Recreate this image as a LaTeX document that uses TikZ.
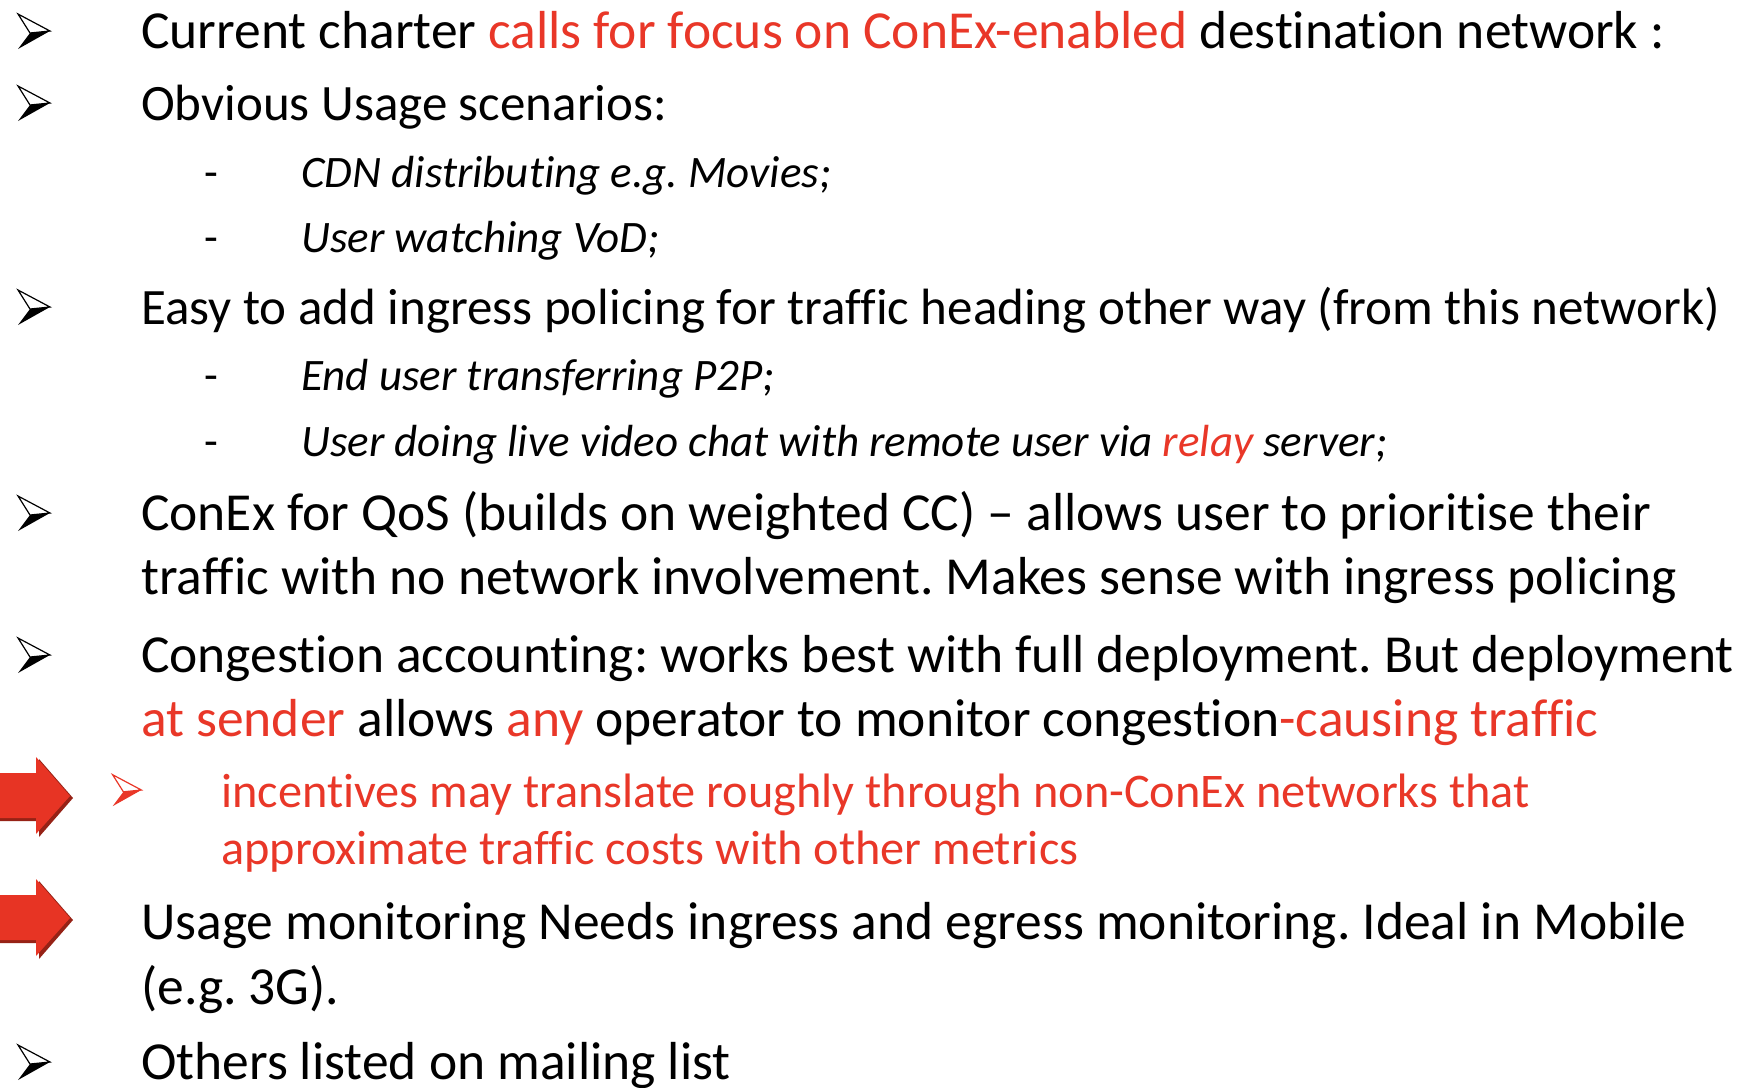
\documentclass[tikz,border=0pt]{standalone}
\usepackage{fontspec}
\setmainfont{Carlito}[Ligatures=NoCommon]
\frenchspacing
\definecolor{txtred}{RGB}{233,55,40}
\definecolor{arrred}{RGB}{231,52,36}
\definecolor{arrshadow}{RGB}{150,34,22}
\newcommand{\mainsz}{\fontsize{53.5}{64}\selectfont}
\newcommand{\midsz}{\fontsize{51}{61}\selectfont}
\newcommand{\subsz}{\fontsize{45}{54}\selectfont}
\newcommand{\redsz}{\fontsize{48.3}{58}\selectfont}
\newcommand{\rd}[1]{\textcolor{txtred}{#1}}
\newcommand{\blkbul}[3]{%
  \begin{scope}[shift={(#1,#2)}]
    \fill[#3] (-4,2) -- (16,0) -- (-16,18) -- cycle;
    \filldraw[fill=white,draw=#3,line width=1.2pt,line join=miter] (-16,-17) -- (16,0) -- (-4,2) -- cycle;
  \end{scope}}
\newcommand{\bigarrow}[2]{%
  \begin{scope}[shift={(#1,#2)}]
    \fill[arrshadow] (-2,-21) -- (39,-21) -- (39,-37) -- (73,2) -- (39,41) -- (39,25) -- (-2,25) -- cycle;
    \fill[arrred] (-2,-23) -- (36,-23) -- (36,-39) -- (70,0) -- (36,38) -- (36,22) -- (-2,22) -- cycle;
  \end{scope}}
\begin{document}
\begin{tikzpicture}[x=1pt,y=-1pt,
  mtxt/.style={anchor=base west,inner sep=0pt,font=\mainsz},
  mdtxt/.style={anchor=base west,inner sep=0pt,font=\midsz},
  stxt/.style={anchor=base west,inner sep=0pt,font=\subsz\itshape},
  rtxt/.style={anchor=base west,inner sep=0pt,font=\redsz,text=txtred},
  dsh/.style={anchor=base west,inner sep=0pt,font=\subsz}]
\useasboundingbox (0,0) rectangle (1747,1087);
\fill[white] (0,0) rectangle (1747,1087);
% bullets
\blkbul{34}{31}{black}
\blkbul{34}{103}{black}
\blkbul{34}{307}{black}
\blkbul{34}{513}{black}
\blkbul{34}{655}{black}
\blkbul{34}{1062}{black}
\begin{scope}[shift={(127,790)},scale=0.9]
  \fill[txtred] (-4,2) -- (16,0) -- (-16,18) -- cycle;
  \filldraw[fill=white,draw=txtred,line width=1.2pt] (-16,-17) -- (16,0) -- (-4,2) -- cycle;
\end{scope}
\bigarrow{0}{796}
\bigarrow{0}{918}
% text
\node[mtxt] (l1) at (141,48) {Current charter \rd{calls for focus on ConEx-enabled} destination network :};
\node[mdtxt] (l2) at (141,120) {Obvious Usage scenarios:};
\node[dsh] (d1) at (204,187) {-};
\node[stxt] (s1) at (301,187) {CDN distributing e.g. Movies;};
\node[dsh] (d2) at (204,252) {-};
\node[stxt] (s2) at (301,252) {User watching VoD;};
\node[mdtxt] (l3) at (141,324) {Easy to add ingress policing for traffic heading other way (from this network)};
\node[dsh] (d3) at (204,390) {-};
\node[stxt] (s3) at (301,390) {End user transferring P2P;};
\node[dsh] (d4) at (204,456) {-};
\node[stxt] (s4) at (301,456) {User doing live video chat with remote user via \rd{relay} server;};
\node[mtxt] (l4a) at (141,530) {ConEx for QoS (builds on weighted CC) – allows user to prioritise their};
\node[mtxt] (l4b) at (141,594) {traffic with no network involvement. Makes sense with ingress policing};
\node[mtxt] (l5a) at (141,672) {Congestion accounting: works best with full deployment. But deployment};
\node[mtxt] (l5b) at (141,736) {\rd{at sender} allows \rd{any} operator to monitor congestion\rd{-causing traffic}};
\node[rtxt] (r1a) at (221,807) {incentives may translate roughly through non-ConEx networks that};
\node[rtxt] (r1b) at (221,864) {approximate traffic costs with other metrics};
\node[mtxt] (l6a) at (141,939) {Usage monitoring Needs ingress and egress monitoring. Ideal in Mobile};
\node[mtxt] (l6b) at (141,1004) {(e.g. 3G).};
\node[mtxt] (l7) at (141,1079) {Others listed on mailing list};
\end{tikzpicture}
\end{document}
